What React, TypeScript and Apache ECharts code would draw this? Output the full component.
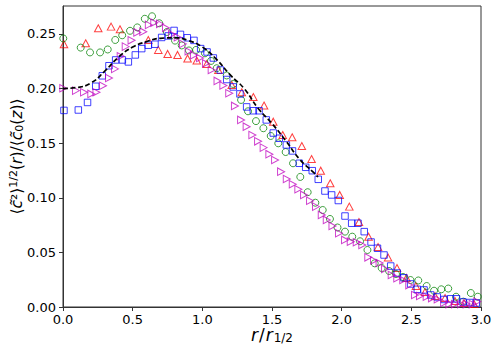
import React, { useEffect, useRef } from "react";
import * as echarts from "echarts";

// Red upward triangles: [r/r_1/2, value]
const redTri: number[][] = [
  [0.007, 0.2406], [0.163, 0.2415], [0.253, 0.2552], [0.345, 0.2567], [0.409, 0.2543],
  [0.612, 0.2445], [0.684, 0.2354], [0.751, 0.2317], [0.822, 0.2308], [0.894, 0.2276],
  [0.960, 0.2257], [1.031, 0.2225], [1.115, 0.2170], [1.211, 0.2033], [1.283, 0.1966],
  [1.366, 0.1923], [1.443, 0.1845], [1.509, 0.1697], [1.577, 0.1575], [1.645, 0.1554],
  [1.714, 0.1474], [1.784, 0.1355], [1.850, 0.1248], [1.918, 0.1133], [1.986, 0.1026],
  [2.055, 0.0919], [2.124, 0.0778], [2.193, 0.0644], [2.261, 0.0549], [2.333, 0.0453],
  [2.397, 0.0357], [2.465, 0.0266], [2.533, 0.0192], [2.598, 0.0137], [2.670, 0.0101],
  [2.742, 0.0082], [2.813, 0.0055], [2.878, 0.0037], [2.950, 0.0027],
];

// Green circles
const greenCirc: number[][] = [
  [0.002, 0.2459], [0.127, 0.2375], [0.194, 0.2331], [0.266, 0.2331], [0.321, 0.2358],
  [0.375, 0.2445], [0.425, 0.2488], [0.481, 0.2529], [0.533, 0.2560], [0.587, 0.2639],
  [0.639, 0.2662], [0.691, 0.2598], [0.746, 0.2518], [0.804, 0.2439], [0.852, 0.2395],
  [0.904, 0.2349], [0.955, 0.2354], [1.019, 0.2323], [1.062, 0.2253], [1.103, 0.2186],
  [1.175, 0.2120], [1.222, 0.2042], [1.278, 0.1896], [1.328, 0.1792], [1.385, 0.1702],
  [1.438, 0.1637], [1.491, 0.1566], [1.545, 0.1499], [1.598, 0.1419], [1.651, 0.1316],
  [1.703, 0.1191], [1.756, 0.1051], [1.811, 0.0955], [1.864, 0.0888], [1.916, 0.0806],
  [1.970, 0.0728], [2.024, 0.0690], [2.076, 0.0644], [2.132, 0.0602], [2.185, 0.0522],
  [2.237, 0.0400], [2.287, 0.0357], [2.340, 0.0330], [2.390, 0.0302], [2.440, 0.0275],
  [2.494, 0.0247], [2.550, 0.0243], [2.610, 0.0192], [2.663, 0.0149], [2.715, 0.0162],
  [2.765, 0.0169], [2.821, 0.0094], [2.873, 0.0049], [2.927, 0.0128], [2.977, 0.0094],
];

// Blue squares
const blueSq: number[][] = [
  [0.007, 0.1800], [0.110, 0.1804], [0.176, 0.1873], [0.235, 0.2021], [0.282, 0.2117],
  [0.330, 0.2209], [0.378, 0.2262], [0.426, 0.2262], [0.469, 0.2244], [0.519, 0.2308],
  [0.565, 0.2366], [0.612, 0.2397], [0.660, 0.2406], [0.708, 0.2468], [0.756, 0.2482],
  [0.797, 0.2532], [0.843, 0.2496], [0.892, 0.2465], [0.940, 0.2441], [0.988, 0.2366],
  [1.034, 0.2335], [1.079, 0.2280], [1.129, 0.2170], [1.175, 0.2083], [1.222, 0.2015],
  [1.270, 0.1951], [1.318, 0.1832], [1.366, 0.1797], [1.407, 0.1797], [1.459, 0.1713],
  [1.509, 0.1593], [1.552, 0.1545], [1.603, 0.1484], [1.647, 0.1429], [1.696, 0.1316],
  [1.742, 0.1279], [1.789, 0.1248], [1.832, 0.1169], [1.880, 0.1062], [1.928, 0.1026],
  [1.976, 0.0975], [2.024, 0.0833], [2.072, 0.0767], [2.117, 0.0767], [2.162, 0.0690],
  [2.211, 0.0595], [2.257, 0.0538], [2.304, 0.0476], [2.352, 0.0375], [2.399, 0.0311],
  [2.447, 0.0267], [2.495, 0.0211], [2.543, 0.0162], [2.591, 0.0156], [2.639, 0.0110],
  [2.686, 0.0092], [2.735, 0.0069], [2.781, 0.0075], [2.824, 0.0075], [2.871, 0.0046],
  [2.921, 0.0041], [2.966, 0.0037],
];

// Magenta right-pointing triangles
const magentaTri: number[][] = [
  [0.002, 0.2003], [0.093, 0.1981], [0.151, 0.1966], [0.203, 0.1951], [0.240, 0.1966],
  [0.287, 0.2026], [0.330, 0.2097], [0.373, 0.2180], [0.414, 0.2296], [0.450, 0.2384],
  [0.492, 0.2442], [0.533, 0.2514], [0.576, 0.2521], [0.616, 0.2583], [0.655, 0.2603],
  [0.696, 0.2592], [0.739, 0.2555], [0.782, 0.2497], [0.823, 0.2470], [0.861, 0.2409],
  [0.901, 0.2342], [0.940, 0.2305], [0.983, 0.2280], [1.026, 0.2230], [1.067, 0.2170],
  [1.109, 0.2070], [1.151, 0.2028], [1.193, 0.1957], [1.234, 0.1841], [1.278, 0.1713],
  [1.318, 0.1651], [1.359, 0.1575], [1.400, 0.1517], [1.440, 0.1459], [1.481, 0.1399],
  [1.522, 0.1346], [1.565, 0.1239], [1.606, 0.1172], [1.649, 0.1124], [1.689, 0.1078],
  [1.730, 0.1026], [1.773, 0.0973], [1.816, 0.0919], [1.857, 0.0843], [1.893, 0.0797],
  [1.934, 0.0742], [1.981, 0.0675], [2.024, 0.0614], [2.065, 0.0598], [2.108, 0.0593],
  [2.148, 0.0568], [2.191, 0.0455], [2.232, 0.0426], [2.272, 0.0403], [2.311, 0.0348],
  [2.359, 0.0293], [2.399, 0.0263], [2.442, 0.0247], [2.485, 0.0201], [2.526, 0.0110],
  [2.562, 0.0101], [2.610, 0.0094], [2.648, 0.0082], [2.689, 0.0071], [2.735, 0.0039],
  [2.773, 0.0027], [2.813, 0.0027], [2.857, 0.0027], [2.897, 0.0027], [2.940, 0.0027],
  [2.973, 0.0049],
];

// Black dashed fit curve
const fitR: number[] = [0, 0.1, 0.2, 0.3, 0.4, 0.5, 0.6, 0.7, 0.8, 0.9, 1.0, 1.1, 1.2, 1.3, 1.4, 1.5, 1.6, 1.7, 1.8, 1.83];
const fitV: number[] = [0.200, 0.201, 0.205, 0.216, 0.229, 0.238, 0.243, 0.246, 0.2465, 0.244, 0.238, 0.227, 0.2125, 0.200, 0.182, 0.168, 0.152, 0.135, 0.123, 0.119];

const xTicks = { min: 0, max: 3.0, interval: 0.5 };
const yTicks = { min: 0, max: 0.2756, interval: 0.05 };

const FONT = "DejaVu Sans";

export default function App() {
  const ref = useRef<HTMLDivElement>(null);
  useEffect(() => {
    if (!ref.current) return;
    const chart = echarts.init(ref.current, undefined, { renderer: "svg" });
    const axisColor = "#333";
    const common = {
      type: "scatter" as const,
      itemStyle: { color: "none", borderWidth: 1, opacity: 0.75 },
    };
    chart.setOption({
      animation: false,
      backgroundColor: "#fff",
      grid: {
        left: 63, right: 17, top: 6, bottom: 46,
        containLabel: false,
        outerBoundsMode: "none",
        show: true, borderColor: axisColor, borderWidth: 1, backgroundColor: "transparent",
      },
      xAxis: {
        type: "value",
        min: xTicks.min, max: xTicks.max, interval: xTicks.interval,
        splitLine: { show: false },
        axisLine: { show: true, onZero: false, lineStyle: { color: axisColor, width: 1 } },
        axisTick: { show: true, inside: false, length: 4, lineStyle: { color: axisColor } },
        axisLabel: {
          color: "#000", fontFamily: FONT, fontSize: 13, margin: 6,
          formatter: (v: number) => v.toFixed(1),
        },
        name: "{i|r}{n|/}{i|r}{s|1/2}",
        nameLocation: "middle",
        nameGap: 19,
        nameMoveOverlap: false,
        nameTextStyle: {
          color: "#000", fontFamily: FONT, verticalAlign: "top",
          rich: {
            i: { fontFamily: FONT, fontStyle: "italic", fontSize: 17, color: "#000" },
            n: { fontFamily: FONT, fontSize: 17, color: "#000", padding: [0, 1, 0, 1] },
            s: { fontFamily: FONT, fontSize: 12, color: "#000", verticalAlign: "bottom", padding: [6, 0, 0, 1] },
          },
        },
      },
      yAxis: {
        type: "value",
        min: yTicks.min, max: yTicks.max, interval: yTicks.interval,
        splitLine: { show: false },
        axisLine: { show: true, onZero: false, lineStyle: { color: axisColor, width: 1 } },
        axisTick: { show: true, inside: false, length: 4, lineStyle: { color: axisColor } },
        axisLabel: {
          color: "#000", fontFamily: FONT, fontSize: 13, margin: 7, showMaxLabel: false,
          formatter: (v: number) => (Math.abs(v / 0.05 - Math.round(v / 0.05)) < 1e-6 ? v.toFixed(2) : ""),
        },
        name: "{n|⟨}{i|c̃}{n|²⟩}{s|1/2}{n|(}{i|r}{n|)/⟨}{i|c̃}{b|0}{n|(}{i|z}{n|)⟩}",
        nameLocation: "middle",
        nameRotate: 90,
        nameGap: 38,
        nameMoveOverlap: false,
        nameTextStyle: {
          color: "#000", fontFamily: FONT,
          rich: {
            i: { fontFamily: FONT, fontStyle: "italic", fontSize: 15.5, color: "#000" },
            n: { fontFamily: FONT, fontSize: 15.5, color: "#000" },
            s: { fontFamily: FONT, fontSize: 11, color: "#000", verticalAlign: "top", padding: [0, 0, 6, 0] },
            b: { fontFamily: FONT, fontSize: 11, color: "#000", verticalAlign: "bottom", padding: [5, 0, 0, 0] },
          },
        },
      },
      series: [
        {
          ...common, name: "red", data: redTri, symbol: "triangle", symbolSize: [7.5, 7],
          itemStyle: { ...common.itemStyle, borderColor: "#ff0000" },
        },
        {
          ...common, name: "green", data: greenCirc, symbol: "circle", symbolSize: 7,
          itemStyle: { ...common.itemStyle, borderColor: "#008000" },
        },
        {
          ...common, name: "blue", data: blueSq, symbol: "rect", symbolSize: 6.5,
          itemStyle: { ...common.itemStyle, borderColor: "#0000ff" },
        },
        {
          ...common, name: "magenta", data: magentaTri, symbol: "triangle", symbolSize: [7.5, 7],
          symbolRotate: -90,
          itemStyle: { ...common.itemStyle, borderColor: "#bf00bf" },
        },
        {
          type: "line", name: "fit",
          data: fitR.map((r, i) => [r, fitV[i]]),
          showSymbol: false, smooth: true,
          lineStyle: { color: "#000", width: 1.7, type: [5, 2.5] },
          z: 5,
        },
      ],
    });
    return () => chart.dispose();
  }, []);
  return (
    <div
      ref={ref}
      style={{ position: "fixed", left: 0, top: 0, width: 498, height: 353 }}
    />
  );
}
